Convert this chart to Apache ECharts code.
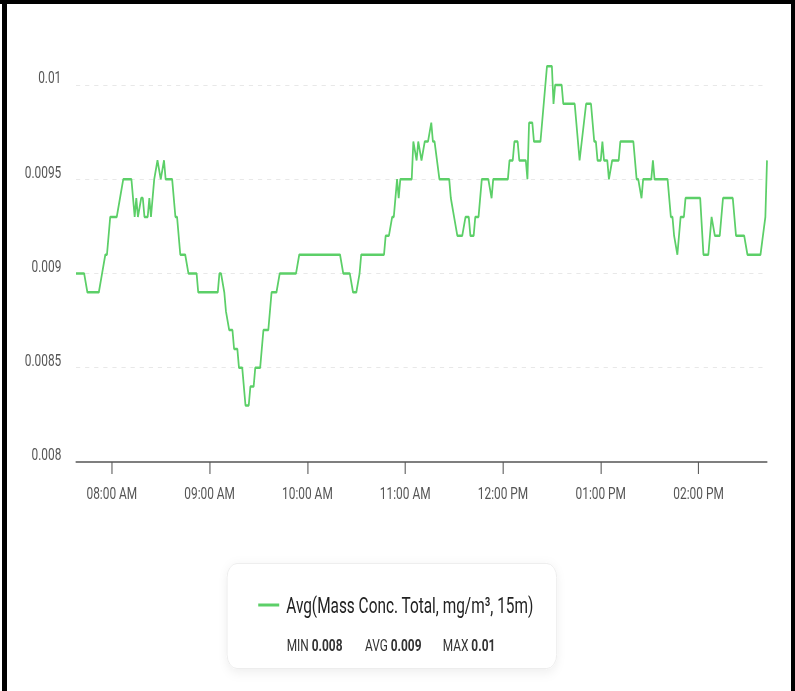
<!DOCTYPE html>
<html><head><meta charset="utf-8">
<script src="https://cdn.jsdelivr.net/npm/echarts@6/dist/echarts.min.js"></script>
<style>
html,body{margin:0;padding:0;background:#fff;}
#frame{position:relative;width:795px;height:691px;overflow:hidden;background:#fff;}
#chart{position:absolute;left:0;top:0;width:1136px;height:691px;transform:scaleX(0.69982);transform-origin:0 0;}
.bar{position:absolute;background:#000;}
</style></head><body>
<div id="frame"><div id="chart"></div>
<div class="bar" style="left:0;top:0;width:795px;height:4px"></div>
<div class="bar" style="left:2px;top:0;width:5px;height:691px"></div>
<div class="bar" style="left:791px;top:0;width:4px;height:691px"></div>
</div>
<script>
const seriesName = 'Avg(Mass Conc. Total, mg/m³, 15m)';
const times = [
 '07:38','07:43','07:45','07:52','07:54','07:56','07:57','07:59','08:03','08:05','08:07','08:12',
 '08:14','08:15','08:16','08:18','08:19','08:20','08:22','08:23','08:24','08:26','08:28','08:30',
 '08:32','08:33','08:37','08:39','08:40','08:42','08:45','08:47','08:52','08:53','09:05','09:06',
 '09:07','09:09','09:10','09:12','09:14','09:15','09:17','09:18','09:20','09:22','09:24','09:25',
 '09:27','09:28','09:31','09:33','09:36','09:38','09:41','09:43','09:53','09:55','10:20','10:22',
 '10:26','10:28','10:30','10:32','10:33','10:47','10:48','10:50','10:52','10:53','10:55','10:56',
 '10:57','11:04','11:05','11:07','11:08','11:10','11:12','11:14','11:16','11:17','11:18','11:21',
 '11:27','11:28','11:30','11:32','11:35','11:37','11:39','11:40','11:42','11:43','11:45','11:47',
 '11:51','11:53','11:54','12:03','12:04','12:06','12:07','12:09','12:10','12:14','12:15','12:16',
 '12:18','12:19','12:23','12:27','12:30','12:31','12:32','12:36','12:37','12:44','12:47','12:51',
 '12:54','12:56','12:57','12:58','13:00','13:01','13:02','13:04','13:05','13:07','13:11','13:12',
 '13:20','13:22','13:23','13:25','13:26','13:31','13:32','13:33','13:41','13:43','13:44','13:45',
 '13:47','13:49','13:51','13:52','14:01','14:03','14:06','14:08','14:10','14:13','14:15','14:21',
 '14:23','14:28','14:30','14:38','14:41','14:42'
];
const values = [
 0.0090,0.0090,0.0089,0.0089,0.0090,0.0091,0.0091,0.0093,0.0093,0.0094,0.0095,0.0095,
 0.0093,0.0094,0.0093,0.0094,0.0094,0.0093,0.0093,0.0094,0.0093,0.0095,0.0096,0.0095,
 0.0096,0.0095,0.0095,0.0093,0.0093,0.0091,0.0091,0.0090,0.0090,0.0089,0.0089,0.0090,
 0.0090,0.0089,0.0088,0.0087,0.0087,0.0086,0.0086,0.0085,0.0085,0.0083,0.0083,0.0084,
 0.0084,0.0085,0.0085,0.0087,0.0087,0.0089,0.0089,0.0090,0.0090,0.0091,0.0091,0.0090,
 0.0090,0.0089,0.0089,0.0090,0.0091,0.0091,0.0092,0.0092,0.0093,0.0093,0.0095,0.0094,
 0.0095,0.0095,0.0097,0.0096,0.0097,0.0096,0.0097,0.0097,0.0098,0.0097,0.0097,0.0095,
 0.0095,0.0094,0.0093,0.0092,0.0092,0.0093,0.0093,0.0092,0.0092,0.0093,0.0093,0.0095,
 0.0095,0.0094,0.0095,0.0095,0.0096,0.0096,0.0097,0.0097,0.0096,0.0096,0.0095,0.0098,
 0.0098,0.0097,0.0097,0.0101,0.0101,0.0099,0.0100,0.0100,0.0099,0.0099,0.0096,0.0099,
 0.0099,0.0097,0.0097,0.0096,0.0096,0.0097,0.0096,0.0096,0.0095,0.0096,0.0096,0.0097,
 0.0097,0.0095,0.0095,0.0094,0.0095,0.0095,0.0096,0.0095,0.0095,0.0093,0.0093,0.0092,
 0.0091,0.0093,0.0093,0.0094,0.0094,0.0091,0.0091,0.0093,0.0092,0.0092,0.0094,0.0094,
 0.0092,0.0092,0.0091,0.0091,0.0093,0.0096
];
const xRange = ['07:38','14:42'];
const xTickTimes = ['08:00','09:00','10:00','11:00','12:00','13:00','14:00'];
const yRange = [0.008, 0.0102];
const yStep = 0.0005;
const statLabels = ['MIN','AVG','MAX'];

function toMin(t){ const p=t.split(':'); return (+p[0])*60 + (+p[1]); }
function fmtTime(m){
  const h = Math.floor(m/60), mm = Math.round(m%60);
  const h12 = ((h+11)%12)+1;
  return String(h12).padStart(2,'0') + ':' + String(mm).padStart(2,'0') + ' ' + (h<12?'AM':'PM');
}
const data = times.map((t,i)=>[toMin(t), values[i]]);
const r3 = v => String(+v.toFixed(3));
const statVals = [
  r3(Math.min(...values)),
  r3(values.reduce((a,b)=>a+b,0)/values.length),
  r3(Math.max(...values))
];
const statX = [409.7, 521.5, 632.6];

const FONT = 'Roboto, "Noto Sans", sans-serif';
const chart = echarts.init(document.getElementById('chart'), null, {renderer:'svg'});
chart.setOption({
  animation:false,
  grid:{left:108.6, right:40, top:47.3, bottom:229},
  xAxis:{
    type:'value', min:toMin(xRange[0]), max:toMin(xRange[1]),
    axisLine:{onZero:false, lineStyle:{color:'#555', width:1.5}},
    axisTick:{show:true, length:12, lineStyle:{color:'#555', width:1.5}, customValues:xTickTimes.map(toMin)},
    axisLabel:{customValues:xTickTimes.map(toMin), formatter:fmtTime, margin:23, fontSize:17, lineHeight:17, color:'#555', fontFamily:FONT},
    splitLine:{show:false}
  },
  yAxis:{
    type:'value', min:yRange[0], max:yRange[1], interval:yStep,
    axisLine:{show:false}, axisTick:{show:false},
    axisLabel:{showMaxLabel:false, formatter:v=>String(+v.toFixed(4)), margin:21, fontSize:17, lineHeight:15, verticalAlign:'bottom', color:'#555', fontFamily:FONT},
    splitLine:{show:true, showMinLine:false, showMaxLine:false, lineStyle:{color:'#e4e4e4', type:[6,7], width:1}}
  },
  legend:{
    show:true, left:364, top:587, icon:'rect', itemWidth:30, itemHeight:3,
    textStyle:{fontSize:22, color:'#222', fontFamily:FONT, padding:[0,0,0,5], lineHeight:26},
    data:[seriesName], selectedMode:false
  },
  graphic:[
    {type:'rect', left:324, top:563, z:1, shape:{width:471, height:105, r:14},
     style:{fill:'#fff', stroke:'#ebebeb', lineWidth:1, shadowBlur:12, shadowColor:'rgba(0,0,0,0.07)', shadowOffsetY:3}},
    ...statLabels.map((l,i)=>({
      type:'text', x:statX[i], y:645, z:5,
      style:{text:'{l|'+l+'} {v|'+statVals[i]+'}', verticalAlign:'middle', fill:'#333', font:'17px '+FONT,
        rich:{l:{fontSize:17, color:'#333', fontFamily:FONT}, v:{fontSize:17, fontWeight:'bold', color:'#111', fontFamily:FONT}}}
    }))
  ],
  series:[{
    name:seriesName, type:'line', data:data, showSymbol:false, smooth:false,
    color:'#5ccf68', lineStyle:{width:2.5, color:'#5ccf68'}
  }]
});
</script>
</body></html>
